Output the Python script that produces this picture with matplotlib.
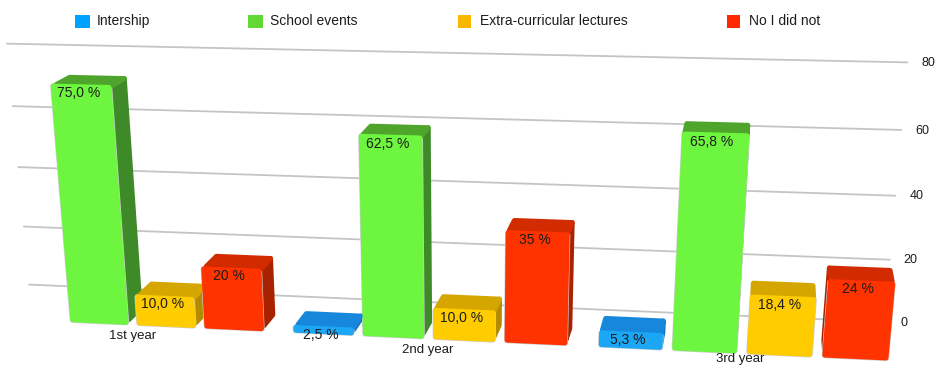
import numpy as np
import matplotlib
matplotlib.use('Agg')
import matplotlib.pyplot as plt
from matplotlib.patches import Polygon, Rectangle

################################################################################
# Data
years = ['1st year', '2nd year', '3rd year']
series_names = ['Intership', 'School events', 'Extra-curricular lectures', 'No I did not']
intership = [0, 2.5, 5.3]
school_events = [75.0, 62.5, 65.8]
extra_lectures = [10.0, 10.0, 18.4]
no_did_not = [20, 35, 24]
grid_values = [0, 20, 40, 60, 80]

################################################################################
# Constants
W, H = 936, 367
group_pitch = 4.3    # slots from one year to the next
bar_width = 0.88     # in slots
wall_z = -1.2        # bars stand between z = 0 (back) and z = 1 (front)
wall_x = (-0.28, 12.5)
# corner rounding: faces are pulled in by this much and get a wide round edge
inset_x, inset_y, inset_z = 0.04, 0.8, 0.16
round_lw = 3.6

# front, top, side colour per series
front_colors = ['#1CA6F6', '#6EF53F', '#FFCC00', '#FF3300']
top_colors = ['#1787DC', '#4FA52C', '#D6A600', '#D22B00']
side_colors = ['#1375B8', '#3F8A28', '#B58C00', '#A82200']
legend_colors = ['#00A2FF', '#61D836', '#FAB700', '#FF2600']
legend_x = [75, 248, 458, 727]
legend_w = [15, 15, 13, 13]
grid_color = '#C4C4C4'
text_color = '#1C1C1C'

################################################################################
# Camera: least squares fit of a 3x4 projection (x slot, y value, z depth) -> pixel
wall_pts = [
    (wall_x[0], 0, wall_z, 29, 284), (wall_x[0], 80, wall_z, 8, 44),
    (wall_x[1], 0, wall_z, 885, 322), (wall_x[1], 80, wall_z, 909, 63),
]
camera_pts = [
    # bar front bottom
    (1, 0, 1, 69, 323), (1.88, 0, 1, 127, 325), (3, 0, 1, 205, 330), (3.88, 0, 1, 265, 332),
    (5.3, 0, 1, 363, 337), (6.18, 0, 1, 425, 339), (7.3, 0, 1, 506, 343), (8.18, 0, 1, 572, 346),
    (9.6, 0, 1, 670, 351), (10.48, 0, 1, 738, 353), (11.6, 0, 1, 823, 357), (12.48, 0, 1, 890, 360),
    # bar front top
    (1, 75, 1, 50, 83), (1.88, 75, 1, 113, 85), (3, 20, 1, 202, 267), (3.88, 20, 1, 262, 268),
    (5.3, 62.5, 1, 360, 133), (6.18, 62.5, 1, 426, 134), (7.3, 35, 1, 507, 231), (8.18, 35, 1, 574, 232),
    (9.6, 65.8, 1, 681, 130), (10.48, 65.8, 1, 752, 133), (11.6, 24, 1, 823, 280), (12.48, 24, 1, 897, 280),
    # bar back top
    (1, 75, 0, 68, 73), (1.88, 75, 0, 126, 74), (3, 20, 0, 217, 251), (3.88, 20, 0, 273, 253),
    (5.3, 62.5, 0, 366, 121), (6.18, 62.5, 0, 430, 123), (7.3, 35, 0, 511, 215), (8.18, 35, 0, 574, 218),
    (9.6, 65.8, 0, 682, 119), (10.48, 65.8, 0, 750, 121), (11.6, 24, 0, 823, 263), (12.48, 24, 0, 885, 265),
] + wall_pts * 4  # wall counts heavier, its lines are long
A = []
b = []
for x, y, z, u, v in camera_pts:
    A.append([x, y, z, 1, 0, 0, 0, 0, -u * x, -u * y, -u * z])
    A.append([0, 0, 0, 0, x, y, z, 1, -v * x, -v * y, -v * z])
    b += [u, v]
P = np.linalg.lstsq(np.array(A, dtype=float), np.array(b, dtype=float), rcond=None)[0]
P = np.append(P, 1.0).reshape(3, 4)


def project(x, y, z):
    """ Slot, value and depth to pixel position. """
    u, v, w = P @ np.array([x, y, z, 1.0])
    return u / w, v / w


def face(ax, corners, color, zorder, edge=None, lw=round_lw):
    """ Draw box face, the wide round edge gives the soft corners. """
    ax.add_patch(Polygon([project(*c) for c in corners], closed=True, facecolor=color,
                         edgecolor=edge or color, linewidth=lw, joinstyle='round', zorder=zorder))


################################################################################
# Plot
plt.rcParams['font.family'] = ['Liberation Sans', 'DejaVu Sans']
fig = plt.figure(figsize=(W / 100, H / 100), dpi=100)
ax = fig.add_axes([0, 0, 1, 1])
ax.set_xlim(0, W)
ax.set_ylim(H, 0)
ax.axis('off')

# Grid lines on the back wall, with value labels at the right end
for g in grid_values:
    x0, y0 = project(wall_x[0], g, wall_z)
    x1, y1 = project(wall_x[1], g, wall_z)
    ax.plot([x0, x1], [y0, y1], color=grid_color, lw=1.3, solid_capstyle='round', zorder=1)
    xt, yt = project(wall_x[1] + 0.28, g, wall_z)
    ax.text(xt, yt, str(g), ha='center', va='center', fontsize=9, color=text_color, zorder=5)

# Bars
all_series = [intership, school_events, extra_lectures, no_did_not]
for i_year in range(len(years)):
    start = i_year * group_pitch
    for i_serie, values in enumerate(all_series):
        v = values[i_year]
        if v == 0:
            continue
        xl = start + i_serie
        xr = xl + bar_width
        # inner box, the round edge grows it back to full size
        xa, xb = xl + inset_x, xr - inset_x
        ya, yb = inset_y, v - inset_y
        za, zb = inset_z, 1 - inset_z
        # only one of the two sides faces the camera
        if project(xr, v, 0)[0] > project(xr, v, 1)[0]:
            face(ax, [(xb, ya, zb), (xb, yb, zb), (xb, yb, za), (xb, ya, za)], side_colors[i_serie], 2)
        if project(xl, v, 0)[0] < project(xl, v, 1)[0]:
            face(ax, [(xa, ya, zb), (xa, yb, zb), (xa, yb, za), (xa, ya, za)], side_colors[i_serie], 2)
        face(ax, [(xa, yb, zb), (xb, yb, zb), (xb, yb, za), (xa, yb, za)], top_colors[i_serie], 2.5)
        front = [(xa, ya, 1), (xb, ya, 1), (xb, yb, 1), (xa, yb, 1)]
        # thin grey contour around the front
        face(ax, front, '#CFCFCF', 2.2, lw=round_lw + 0.9)
        face(ax, front, front_colors[i_serie], 3)
        # value label
        if i_serie == 3:
            label = '%d %%' % v
        else:
            label = ('%.1f %%' % v).replace('.', ',')
        xt, yt = project((xl + xr) / 2 - 0.04, v - 2.8, 1)
        ax.text(xt, yt, label, ha='center', va='center', fontsize=10, color=text_color, zorder=6)

# Year labels below the bars, kept inside the figure
for i_year, year in enumerate(years):
    xt, yt = project(i_year * group_pitch + 1.93, -3.6, 1)
    ax.text(xt, min(yt, H - 8), year, ha='center', va='center', fontsize=9.5, color=text_color, zorder=5)

# Legend
for name, color, lx, lw in zip(series_names, legend_colors, legend_x, legend_w):
    ax.add_patch(Rectangle((lx, 15), lw, 13, facecolor=color, edgecolor='none'))
    ax.text(lx + 22, 21, name, ha='left', va='center', fontsize=10, color=text_color)

fig.savefig('out.png', dpi=100)
